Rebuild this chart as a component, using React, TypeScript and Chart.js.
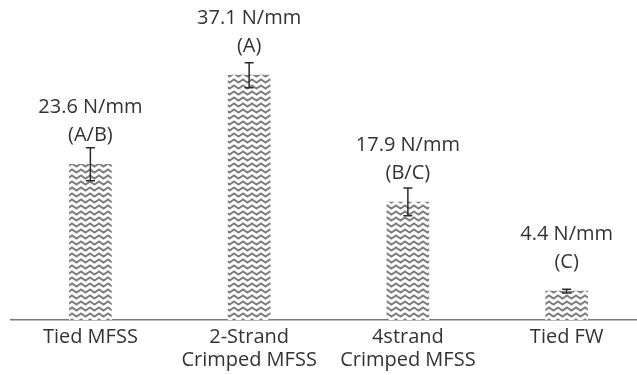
import React, { useEffect, useRef } from "react";
import { Chart, registerables } from "chart.js";
Chart.register(...registerables);

const categories: (string | string[])[] = [
  "Tied MFSS",
  ["2-Strand", "Crimped MFSS"],
  ["4strand", "Crimped MFSS"],
  "Tied FW",
];
const values = [23.6, 37.1, 17.9, 4.4];
const errors = [2.5, 1.9, 2.1, 0.3];
const valueLabels = ["23.6 N/mm", "37.1 N/mm", "17.9 N/mm", "4.4 N/mm"];
const groupLabels = ["(A/B)", "(A)", "(B/C)", "(C)"];

const TEXT = "#333333";
const FONT = '"Open Sans", "DejaVu Sans", sans-serif';

function makePattern(): CanvasPattern | string {
  const w = 9;
  const h = 6;
  const c = document.createElement("canvas");
  c.width = w;
  c.height = h;
  const ctx = c.getContext("2d");
  if (!ctx) return "#aaa";
  ctx.fillStyle = "#ffffff";
  ctx.fillRect(0, 0, w, h);
  ctx.strokeStyle = "#808080";
  ctx.lineWidth = 2.1;
  for (const oy of [-h, 0, h]) {
    ctx.beginPath();
    ctx.moveTo(-w / 2, oy + 4.5);
    ctx.lineTo(0, oy + 1.5);
    ctx.lineTo(w / 2, oy + 4.5);
    ctx.lineTo(w, oy + 1.5);
    ctx.lineTo(w * 1.5, oy + 4.5);
    ctx.stroke();
  }
  return ctx.createPattern(c, "repeat") || "#aaa";
}

const errorBarPlugin = {
  id: "errorBars",
  afterDatasetsDraw(chart: any) {
    const ctx = chart.ctx;
    const meta = chart.getDatasetMeta(0);
    const y = chart.scales.y;
    ctx.save();
    ctx.strokeStyle = "#2a2a2a";
    ctx.lineWidth = 1.5;
    meta.data.forEach((el: any, i: number) => {
      const top = y.getPixelForValue(values[i] + errors[i]);
      const bot = y.getPixelForValue(values[i] - errors[i]);
      const x = el.x;
      ctx.beginPath();
      ctx.moveTo(x, top);
      ctx.lineTo(x, bot);
      ctx.moveTo(x - 4.5, top);
      ctx.lineTo(x + 4.5, top);
      ctx.moveTo(x - 4.5, bot);
      ctx.lineTo(x + 4.5, bot);
      ctx.stroke();
    });
    ctx.fillStyle = TEXT;
    ctx.font = `20px ${FONT}`;
    ctx.textAlign = "center";
    ctx.textBaseline = "alphabetic";
    meta.data.forEach((el: any, i: number) => {
      const x = el.x;
      const by = el.y;
      ctx.fillText(groupLabels[i], x, by - 23);
      ctx.fillText(valueLabels[i], x, by - 51);
    });
    ctx.restore();
  },
};

export default function App() {
  const ref = useRef<HTMLCanvasElement | null>(null);
  useEffect(() => {
    let chart: Chart | null = null;
    let cancelled = false;
    const create = () => {
      if (cancelled || !ref.current) return;
      chart = new Chart(ref.current, {
        type: "bar",
        data: {
          labels: categories,
          datasets: [
            {
              data: values,
              backgroundColor: makePattern() as any,
              borderWidth: 0,
              barThickness: 42,
            },
          ],
        },
        options: {
          animation: false,
          responsive: true,
          maintainAspectRatio: false,
          layout: { padding: { left: 11, right: 0, top: 23, bottom: -2 } },
          plugins: {
            legend: { display: false },
            tooltip: { enabled: false },
          },
          scales: {
            x: {
              grid: { display: false, drawTicks: false },
              border: { display: true, color: "#7a7a7a", width: 1.5 },
              ticks: {
                color: TEXT,
                font: { family: FONT, size: 20, lineHeight: 1.12 },
                padding: 6,
                maxRotation: 0,
                autoSkip: false,
              },
            },
            y: {
              display: false,
              min: 0,
              max: 45,
            },
          },
        },
        plugins: [errorBarPlugin],
      });
    };
    const fontsAny = (document as any).fonts;
    if (fontsAny && fontsAny.load) {
      fontsAny.load('20px "Open Sans"').then(create, create);
    } else {
      create();
    }
    return () => {
      cancelled = true;
      if (chart) chart.destroy();
    };
  }, []);
  return (
    <div
      style={{
        position: "fixed",
        left: 0,
        top: 0,
        width: 637,
        height: 375,
        overflow: "hidden",
        background: "#ffffff",
      }}
    >
      <div style={{ position: "relative", width: 646, height: 375 }}>
        <canvas ref={ref} />
      </div>
    </div>
  );
}
